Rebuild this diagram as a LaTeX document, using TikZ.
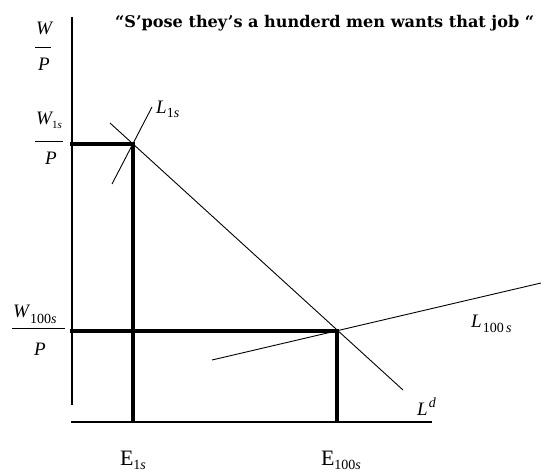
\documentclass[tikz,border=0pt]{standalone}
\usepackage{fontspec}
\setmainfont{Liberation Serif}
\newfontfamily\titlefont{DejaVu Serif}
\tikzset{
  thinline/.style={line width=0.9pt},
  axisline/.style={line width=1.3pt},
  thickline/.style={line width=3.2pt},
  barline/.style={line width=1pt},
  big/.style={inner sep=0pt, font=\fontsize{19}{21}\selectfont\itshape},
  ee/.style={inner sep=0pt, font=\fontsize{22}{24}\selectfont},
}
\newcommand{\sub}[2]{\raisebox{#1}{\fontsize{14}{15}\selectfont #2}}
\begin{document}
\begin{tikzpicture}[x=1pt,y=-1pt]
\useasboundingbox (0,0) rectangle (541,473);
% axes
\coordinate (ytop) at (72,17);
\coordinate (ybot) at (72,405);
\coordinate (xl) at (71,422);
\coordinate (xr) at (432,422);
\draw[axisline] (ytop) -- (ybot);
\draw[axisline] (xl) -- (xr);
% points
\coordinate (A) at (133,144);
\coordinate (B) at (337,331);
\coordinate (Ay) at (70,144);
\coordinate (Ax) at (133,422);
\coordinate (By) at (70,331);
\coordinate (Bx) at (337,422);
% curves
\coordinate (ld1) at (110,123);
\coordinate (ld2) at (403,390);
\draw[thinline] (ld1) -- (ld2);
\coordinate (l1a) at (112,184);
\coordinate (l1b) at (152,107);
\draw[thinline] (l1a) -- (l1b);
\coordinate (l100a) at (212,360);
\coordinate (l100b) at (541,283);
\draw[thinline] (l100a) -- (l100b);
% thick lines
\draw[thickline] (Ay) -- (A) -- (Ax);
\draw[thickline] (By) -- (B) -- (Bx);
% fraction W/P
\node[big, anchor=base] (wpn) at (44,35) {W};
\coordinate (wpb1) at (35,48); \coordinate (wpb2) at (51,48);
\draw[barline] (wpb1) -- (wpb2);
\node[big, anchor=base] (wpd) at (44,71) {P};
% fraction W1s/P
\node[big, anchor=base west] (w1n) at (36,125) {W\sub{-4pt}{\fontsize{11}{12}\selectfont\upshape 1\itshape s}};
\coordinate (w1b1) at (35,142); \coordinate (w1b2) at (63,142);
\draw[barline] (w1b1) -- (w1b2);
\node[big, anchor=base] (w1d) at (51,165) {P};
% fraction W100s/P
\node[big, anchor=base west] (w100n) at (13,317) {W\kern1pt\sub{-6pt}{\upshape 100\itshape s}};
\coordinate (w100b1) at (12,328); \coordinate (w100b2) at (65,328);
\draw[barline] (w100b1) -- (w100b2);
\node[big, anchor=base] (w100d) at (40,355) {P};
% curve labels
\node[big, anchor=base west] (L1) at (156,114) {L\sub{-4pt}{\upshape 1\itshape s}};
\node[big, anchor=base west] (L100) at (471,327) {L\kern1pt\sub{-5pt}{\upshape 100\,\itshape s}};
\node[big, anchor=base west] (Ld) at (417,415) {L\kern1pt\sub{8pt}{\itshape d}};
% axis labels
\node[ee, anchor=base] (E1) at (133,465) {E\sub{-4pt}{1\itshape s}};
\node[ee, anchor=base] (E100) at (341,465) {E\sub{-4pt}{100\itshape s}};
% title
\node[inner sep=0pt, anchor=base west, font=\fontsize{16.1}{18}\selectfont\titlefont\bfseries] (title) at (115,28) {“S’pose they’s a hunderd men wants that job “};
\end{tikzpicture}
\end{document}
